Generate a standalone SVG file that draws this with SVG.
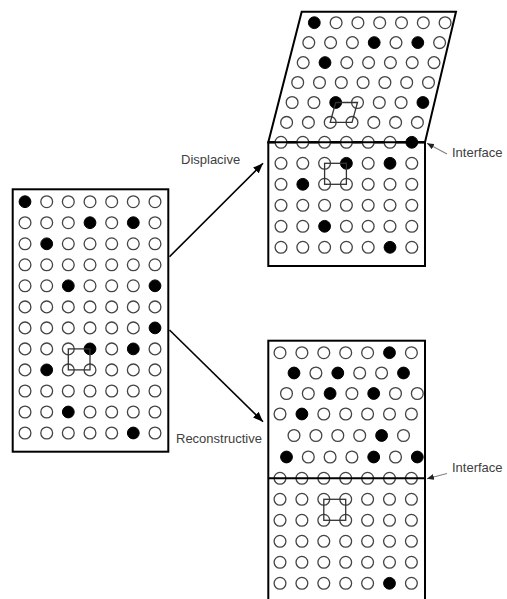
<svg xmlns="http://www.w3.org/2000/svg" width="507" height="599" viewBox="0 0 507 599">
<style>
.bg{fill:#ffffff}
.box{fill:none;stroke:#000;stroke-width:2}
.o{fill:#fff;stroke:#444;stroke-width:1.3}
.f{fill:#000;stroke:#000;stroke-width:1}
.cell{fill:none;stroke:#333;stroke-width:1.3}
.arrow{fill:none;stroke:#000;stroke-width:1.6}
.ptr{fill:none;stroke:#808080;stroke-width:1.1}
.lbl{font-family:"Liberation Sans",Arial,sans-serif;font-size:13px;fill:#404040}
</style>
<defs>
<marker id="ah" markerUnits="userSpaceOnUse" markerWidth="11" markerHeight="9" refX="10" refY="4" orient="auto">
<path d="M0,0 L10,4 L0,8 Z" fill="#000"/>
</marker>
<marker id="ahs" markerUnits="userSpaceOnUse" markerWidth="8" markerHeight="6" refX="7" refY="3" orient="auto">
<path d="M0,0 L7,3 L0,6 Z" fill="#222"/>
</marker>
</defs>
<rect class="bg" x="0" y="0" width="507" height="599"/>

<g id="parent-lattice">
<rect class="box" x="12.7" y="189.3" width="155.6" height="262.4"/>
<g>
<circle class="f" cx="25" cy="201.7" r="5.9"/><circle class="o" cx="46.7" cy="201.7" r="5.9"/><circle class="o" cx="68.3" cy="201.7" r="5.9"/><circle class="o" cx="90" cy="201.7" r="5.9"/><circle class="o" cx="111.7" cy="201.7" r="5.9"/><circle class="o" cx="133.3" cy="201.7" r="5.9"/><circle class="o" cx="155" cy="201.7" r="5.9"/>
<circle class="o" cx="25" cy="222.7" r="5.9"/><circle class="o" cx="46.7" cy="222.7" r="5.9"/><circle class="o" cx="68.3" cy="222.7" r="5.9"/><circle class="f" cx="90" cy="222.7" r="5.9"/><circle class="o" cx="111.7" cy="222.7" r="5.9"/><circle class="f" cx="133.3" cy="222.7" r="5.9"/><circle class="o" cx="155" cy="222.7" r="5.9"/>
<circle class="o" cx="25" cy="243.8" r="5.9"/><circle class="f" cx="46.7" cy="243.8" r="5.9"/><circle class="o" cx="68.3" cy="243.8" r="5.9"/><circle class="o" cx="90" cy="243.8" r="5.9"/><circle class="o" cx="111.7" cy="243.8" r="5.9"/><circle class="o" cx="133.3" cy="243.8" r="5.9"/><circle class="o" cx="155" cy="243.8" r="5.9"/>
<circle class="o" cx="25" cy="264.8" r="5.9"/><circle class="o" cx="46.7" cy="264.8" r="5.9"/><circle class="o" cx="68.3" cy="264.8" r="5.9"/><circle class="o" cx="90" cy="264.8" r="5.9"/><circle class="o" cx="111.7" cy="264.8" r="5.9"/><circle class="o" cx="133.3" cy="264.8" r="5.9"/><circle class="o" cx="155" cy="264.8" r="5.9"/>
<circle class="o" cx="25" cy="285.8" r="5.9"/><circle class="o" cx="46.7" cy="285.8" r="5.9"/><circle class="f" cx="68.3" cy="285.8" r="5.9"/><circle class="o" cx="90" cy="285.8" r="5.9"/><circle class="o" cx="111.7" cy="285.8" r="5.9"/><circle class="o" cx="133.3" cy="285.8" r="5.9"/><circle class="f" cx="155" cy="285.8" r="5.9"/>
<circle class="o" cx="25" cy="306.9" r="5.9"/><circle class="o" cx="46.7" cy="306.9" r="5.9"/><circle class="o" cx="68.3" cy="306.9" r="5.9"/><circle class="o" cx="90" cy="306.9" r="5.9"/><circle class="o" cx="111.7" cy="306.9" r="5.9"/><circle class="o" cx="133.3" cy="306.9" r="5.9"/><circle class="o" cx="155" cy="306.9" r="5.9"/>
<circle class="o" cx="25" cy="327.9" r="5.9"/><circle class="o" cx="46.7" cy="327.9" r="5.9"/><circle class="o" cx="68.3" cy="327.9" r="5.9"/><circle class="o" cx="90" cy="327.9" r="5.9"/><circle class="o" cx="111.7" cy="327.9" r="5.9"/><circle class="o" cx="133.3" cy="327.9" r="5.9"/><circle class="f" cx="155" cy="327.9" r="5.9"/>
<circle class="o" cx="25" cy="348.9" r="5.9"/><circle class="o" cx="46.7" cy="348.9" r="5.9"/><circle class="o" cx="68.3" cy="348.9" r="5.9"/><circle class="f" cx="90" cy="348.9" r="5.9"/><circle class="o" cx="111.7" cy="348.9" r="5.9"/><circle class="f" cx="133.3" cy="348.9" r="5.9"/><circle class="o" cx="155" cy="348.9" r="5.9"/>
<circle class="o" cx="25" cy="369.9" r="5.9"/><circle class="f" cx="46.7" cy="369.9" r="5.9"/><circle class="o" cx="68.3" cy="369.9" r="5.9"/><circle class="o" cx="90" cy="369.9" r="5.9"/><circle class="o" cx="111.7" cy="369.9" r="5.9"/><circle class="o" cx="133.3" cy="369.9" r="5.9"/><circle class="o" cx="155" cy="369.9" r="5.9"/>
<circle class="o" cx="25" cy="391" r="5.9"/><circle class="o" cx="46.7" cy="391" r="5.9"/><circle class="o" cx="68.3" cy="391" r="5.9"/><circle class="o" cx="90" cy="391" r="5.9"/><circle class="o" cx="111.7" cy="391" r="5.9"/><circle class="o" cx="133.3" cy="391" r="5.9"/><circle class="o" cx="155" cy="391" r="5.9"/>
<circle class="o" cx="25" cy="412" r="5.9"/><circle class="o" cx="46.7" cy="412" r="5.9"/><circle class="f" cx="68.3" cy="412" r="5.9"/><circle class="o" cx="90" cy="412" r="5.9"/><circle class="o" cx="111.7" cy="412" r="5.9"/><circle class="o" cx="133.3" cy="412" r="5.9"/><circle class="o" cx="155" cy="412" r="5.9"/>
<circle class="o" cx="25" cy="433" r="5.9"/><circle class="o" cx="46.7" cy="433" r="5.9"/><circle class="o" cx="68.3" cy="433" r="5.9"/><circle class="o" cx="90" cy="433" r="5.9"/><circle class="o" cx="111.7" cy="433" r="5.9"/><circle class="f" cx="133.3" cy="433" r="5.9"/><circle class="o" cx="155" cy="433" r="5.9"/>
</g>
<rect class="cell" x="68.3" y="348.9" width="21.7" height="21"/>
</g>

<g id="displacive-lattice">
<polygon class="box" points="301.7,11.7 456,11.7 425,142.3 268.3,142.3"/>
<rect class="box" x="268.3" y="142.3" width="156.7" height="123.7"/>
<g>
<circle class="f" cx="314.3" cy="22.7" r="5.9"/><circle class="o" cx="336.1" cy="22.7" r="5.9"/><circle class="o" cx="357.9" cy="22.7" r="5.9"/><circle class="o" cx="379.7" cy="22.7" r="5.9"/><circle class="o" cx="401.5" cy="22.7" r="5.9"/><circle class="o" cx="423.3" cy="22.7" r="5.9"/><circle class="o" cx="445.1" cy="22.7" r="5.9"/>
<circle class="o" cx="308.8" cy="42.6" r="5.9"/><circle class="o" cx="330.6" cy="42.6" r="5.9"/><circle class="o" cx="352.4" cy="42.6" r="5.9"/><circle class="f" cx="374.2" cy="42.6" r="5.9"/><circle class="o" cx="396" cy="42.6" r="5.9"/><circle class="f" cx="417.8" cy="42.6" r="5.9"/><circle class="o" cx="439.6" cy="42.6" r="5.9"/>
<circle class="o" cx="303.2" cy="62.6" r="5.9"/><circle class="f" cx="325" cy="62.6" r="5.9"/><circle class="o" cx="346.8" cy="62.6" r="5.9"/><circle class="o" cx="368.6" cy="62.6" r="5.9"/><circle class="o" cx="390.4" cy="62.6" r="5.9"/><circle class="o" cx="412.2" cy="62.6" r="5.9"/><circle class="o" cx="434" cy="62.6" r="5.9"/>
<circle class="o" cx="297.7" cy="82.5" r="5.9"/><circle class="o" cx="319.5" cy="82.5" r="5.9"/><circle class="o" cx="341.3" cy="82.5" r="5.9"/><circle class="o" cx="363.1" cy="82.5" r="5.9"/><circle class="o" cx="384.9" cy="82.5" r="5.9"/><circle class="o" cx="406.7" cy="82.5" r="5.9"/><circle class="o" cx="428.5" cy="82.5" r="5.9"/>
<circle class="o" cx="292.1" cy="102.5" r="5.9"/><circle class="o" cx="313.9" cy="102.5" r="5.9"/><circle class="f" cx="335.7" cy="102.5" r="5.9"/><circle class="o" cx="357.5" cy="102.5" r="5.9"/><circle class="o" cx="379.3" cy="102.5" r="5.9"/><circle class="o" cx="401.1" cy="102.5" r="5.9"/><circle class="f" cx="422.9" cy="102.5" r="5.9"/>
<circle class="o" cx="286.6" cy="122.4" r="5.9"/><circle class="o" cx="308.4" cy="122.4" r="5.9"/><circle class="o" cx="330.2" cy="122.4" r="5.9"/><circle class="o" cx="352" cy="122.4" r="5.9"/><circle class="o" cx="373.8" cy="122.4" r="5.9"/><circle class="o" cx="395.6" cy="122.4" r="5.9"/><circle class="o" cx="417.4" cy="122.4" r="5.9"/>
<circle class="o" cx="281" cy="142.3" r="5.9"/><circle class="o" cx="302.8" cy="142.3" r="5.9"/><circle class="o" cx="324.6" cy="142.3" r="5.9"/><circle class="o" cx="346.4" cy="142.3" r="5.9"/><circle class="o" cx="368.2" cy="142.3" r="5.9"/><circle class="o" cx="390" cy="142.3" r="5.9"/><circle class="f" cx="411.8" cy="142.3" r="5.9"/>
<circle class="o" cx="281" cy="163.3" r="5.9"/><circle class="o" cx="302.8" cy="163.3" r="5.9"/><circle class="o" cx="324.6" cy="163.3" r="5.9"/><circle class="f" cx="346.4" cy="163.3" r="5.9"/><circle class="o" cx="368.2" cy="163.3" r="5.9"/><circle class="f" cx="390" cy="163.3" r="5.9"/><circle class="o" cx="411.8" cy="163.3" r="5.9"/>
<circle class="o" cx="281" cy="184.3" r="5.9"/><circle class="f" cx="302.8" cy="184.3" r="5.9"/><circle class="o" cx="324.6" cy="184.3" r="5.9"/><circle class="o" cx="346.4" cy="184.3" r="5.9"/><circle class="o" cx="368.2" cy="184.3" r="5.9"/><circle class="o" cx="390" cy="184.3" r="5.9"/><circle class="o" cx="411.8" cy="184.3" r="5.9"/>
<circle class="o" cx="281" cy="205.3" r="5.9"/><circle class="o" cx="302.8" cy="205.3" r="5.9"/><circle class="o" cx="324.6" cy="205.3" r="5.9"/><circle class="o" cx="346.4" cy="205.3" r="5.9"/><circle class="o" cx="368.2" cy="205.3" r="5.9"/><circle class="o" cx="390" cy="205.3" r="5.9"/><circle class="o" cx="411.8" cy="205.3" r="5.9"/>
<circle class="o" cx="281" cy="226.3" r="5.9"/><circle class="o" cx="302.8" cy="226.3" r="5.9"/><circle class="f" cx="324.6" cy="226.3" r="5.9"/><circle class="o" cx="346.4" cy="226.3" r="5.9"/><circle class="o" cx="368.2" cy="226.3" r="5.9"/><circle class="o" cx="390" cy="226.3" r="5.9"/><circle class="o" cx="411.8" cy="226.3" r="5.9"/>
<circle class="o" cx="281" cy="247.3" r="5.9"/><circle class="o" cx="302.8" cy="247.3" r="5.9"/><circle class="o" cx="324.6" cy="247.3" r="5.9"/><circle class="o" cx="346.4" cy="247.3" r="5.9"/><circle class="o" cx="368.2" cy="247.3" r="5.9"/><circle class="f" cx="390" cy="247.3" r="5.9"/><circle class="o" cx="411.8" cy="247.3" r="5.9"/>
</g>
<line class="box" x1="268.3" y1="142.3" x2="425" y2="142.3"/>
<polygon class="cell" points="335.7,102.5 357.5,102.5 352,122.4 330.2,122.4"/>
<rect class="cell" x="324.6" y="163.3" width="21.8" height="21"/>
</g>

<g id="reconstructive-lattice">
<rect class="box" x="268.3" y="340.7" width="156.7" height="265"/>
<g>
<circle class="o" cx="280" cy="352.7" r="5.9"/><circle class="o" cx="301.9" cy="352.7" r="5.9"/><circle class="o" cx="323.8" cy="352.7" r="5.9"/><circle class="o" cx="345.7" cy="352.7" r="5.9"/><circle class="o" cx="367.6" cy="352.7" r="5.9"/><circle class="f" cx="389.5" cy="352.7" r="5.9"/><circle class="o" cx="411.4" cy="352.7" r="5.9"/>
<circle class="f" cx="294" cy="373" r="5.9"/><circle class="o" cx="315.9" cy="373" r="5.9"/><circle class="f" cx="337.8" cy="373" r="5.9"/><circle class="o" cx="359.7" cy="373" r="5.9"/><circle class="o" cx="381.6" cy="373" r="5.9"/><circle class="f" cx="403.5" cy="373" r="5.9"/>
<circle class="o" cx="286.5" cy="393.5" r="5.9"/><circle class="o" cx="308.3" cy="393.5" r="5.9"/><circle class="f" cx="330.1" cy="393.5" r="5.9"/><circle class="o" cx="351.9" cy="393.5" r="5.9"/><circle class="f" cx="373.7" cy="393.5" r="5.9"/><circle class="o" cx="395.5" cy="393.5" r="5.9"/><circle class="o" cx="417.3" cy="393.5" r="5.9"/>
<circle class="o" cx="280" cy="414" r="5.9"/><circle class="f" cx="301.9" cy="414" r="5.9"/><circle class="o" cx="323.8" cy="414" r="5.9"/><circle class="o" cx="345.7" cy="414" r="5.9"/><circle class="o" cx="367.6" cy="414" r="5.9"/><circle class="o" cx="389.5" cy="414" r="5.9"/><circle class="o" cx="411.4" cy="414" r="5.9"/>
<circle class="o" cx="294" cy="435.5" r="5.9"/><circle class="o" cx="315.9" cy="435.5" r="5.9"/><circle class="o" cx="337.8" cy="435.5" r="5.9"/><circle class="o" cx="359.7" cy="435.5" r="5.9"/><circle class="f" cx="381.6" cy="435.5" r="5.9"/><circle class="o" cx="403.5" cy="435.5" r="5.9"/>
<circle class="f" cx="286.5" cy="457" r="5.9"/><circle class="o" cx="308.3" cy="457" r="5.9"/><circle class="o" cx="330.1" cy="457" r="5.9"/><circle class="o" cx="351.9" cy="457" r="5.9"/><circle class="f" cx="373.7" cy="457" r="5.9"/><circle class="o" cx="395.5" cy="457" r="5.9"/><circle class="f" cx="417.3" cy="457" r="5.9"/>
<circle class="o" cx="280" cy="478.3" r="5.9"/><circle class="o" cx="301.9" cy="478.3" r="5.9"/><circle class="o" cx="323.8" cy="478.3" r="5.9"/><circle class="o" cx="345.7" cy="478.3" r="5.9"/><circle class="o" cx="367.6" cy="478.3" r="5.9"/><circle class="o" cx="389.5" cy="478.3" r="5.9"/><circle class="o" cx="411.4" cy="478.3" r="5.9"/>
<circle class="o" cx="280" cy="499.3" r="5.9"/><circle class="o" cx="301.9" cy="499.3" r="5.9"/><circle class="o" cx="323.8" cy="499.3" r="5.9"/><circle class="o" cx="345.7" cy="499.3" r="5.9"/><circle class="o" cx="367.6" cy="499.3" r="5.9"/><circle class="o" cx="389.5" cy="499.3" r="5.9"/><circle class="o" cx="411.4" cy="499.3" r="5.9"/>
<circle class="o" cx="280" cy="520.3" r="5.9"/><circle class="o" cx="301.9" cy="520.3" r="5.9"/><circle class="o" cx="323.8" cy="520.3" r="5.9"/><circle class="o" cx="345.7" cy="520.3" r="5.9"/><circle class="o" cx="367.6" cy="520.3" r="5.9"/><circle class="o" cx="389.5" cy="520.3" r="5.9"/><circle class="o" cx="411.4" cy="520.3" r="5.9"/>
<circle class="o" cx="280" cy="541.3" r="5.9"/><circle class="o" cx="301.9" cy="541.3" r="5.9"/><circle class="o" cx="323.8" cy="541.3" r="5.9"/><circle class="o" cx="345.7" cy="541.3" r="5.9"/><circle class="o" cx="367.6" cy="541.3" r="5.9"/><circle class="o" cx="389.5" cy="541.3" r="5.9"/><circle class="o" cx="411.4" cy="541.3" r="5.9"/>
<circle class="o" cx="280" cy="562.3" r="5.9"/><circle class="o" cx="301.9" cy="562.3" r="5.9"/><circle class="o" cx="323.8" cy="562.3" r="5.9"/><circle class="o" cx="345.7" cy="562.3" r="5.9"/><circle class="o" cx="367.6" cy="562.3" r="5.9"/><circle class="o" cx="389.5" cy="562.3" r="5.9"/><circle class="o" cx="411.4" cy="562.3" r="5.9"/>
<circle class="o" cx="280" cy="583.3" r="5.9"/><circle class="o" cx="301.9" cy="583.3" r="5.9"/><circle class="o" cx="323.8" cy="583.3" r="5.9"/><circle class="o" cx="345.7" cy="583.3" r="5.9"/><circle class="o" cx="367.6" cy="583.3" r="5.9"/><circle class="f" cx="389.5" cy="583.3" r="5.9"/><circle class="o" cx="411.4" cy="583.3" r="5.9"/>
</g>
<line class="box" x1="268.3" y1="478.3" x2="425" y2="478.3"/>
<rect class="cell" x="323.8" y="499.3" width="21.9" height="21"/>
</g>

<g id="connectors">
<line class="arrow" x1="169.5" y1="256.7" x2="263" y2="163.3" marker-end="url(#ah)"/>
<line class="arrow" x1="169.5" y1="330" x2="263" y2="421.7" marker-end="url(#ah)"/>
<line class="ptr" x1="447" y1="154" x2="427" y2="143.3" marker-end="url(#ahs)"/>
<line class="ptr" x1="447" y1="473.5" x2="427" y2="478.8" marker-end="url(#ahs)"/>
</g>

<g id="labels">
<text class="lbl" x="181" y="164">Displacive</text>
<text class="lbl" x="176" y="443">Reconstructive</text>
<text class="lbl" x="452" y="156.5">Interface</text>
<text class="lbl" x="452" y="472">Interface</text>
</g>
</svg>
